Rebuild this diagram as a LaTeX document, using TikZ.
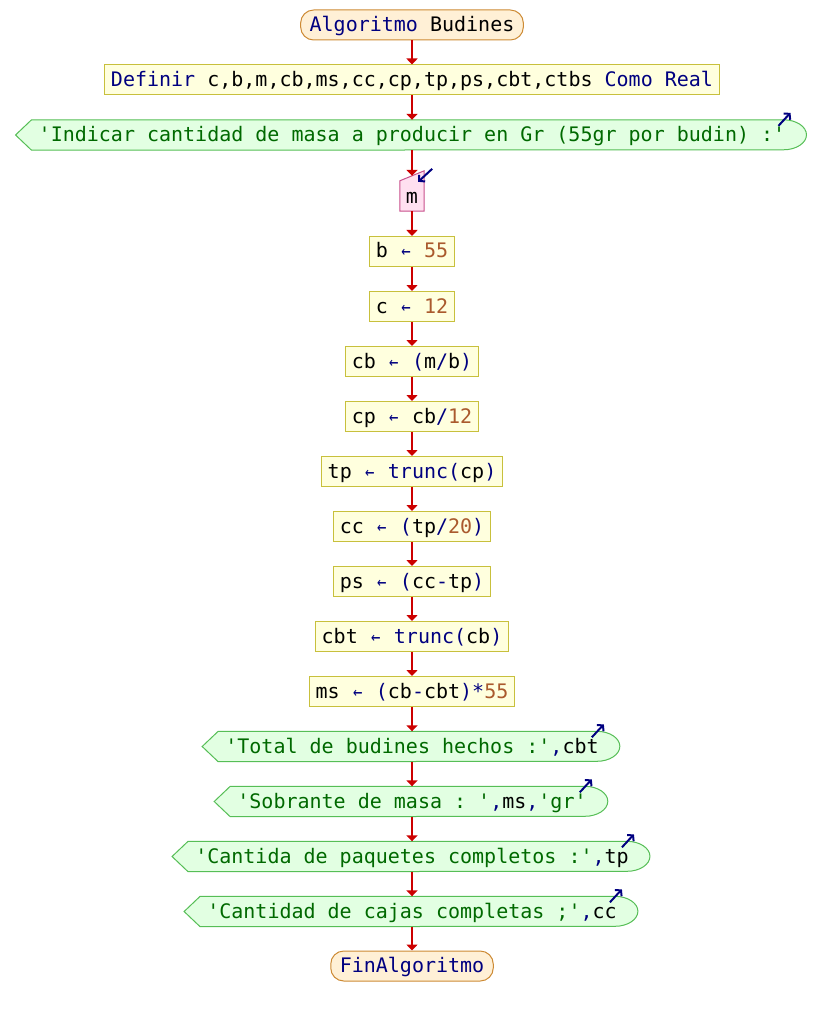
\documentclass[tikz,border=0pt]{standalone}
\usepackage{fontspec}
\setmonofont{DejaVu Sans Mono}
\usetikzlibrary{arrows.meta,calc,backgrounds}

\definecolor{termfill}{RGB}{255,240,214}
\definecolor{termline}{RGB}{205,138,52}
\definecolor{procfill}{RGB}{255,255,222}
\definecolor{procline}{RGB}{200,192,60}
\definecolor{outfill}{RGB}{226,255,226}
\definecolor{outline}{RGB}{86,190,86}
\definecolor{infill}{RGB}{255,224,240}
\definecolor{inline}{RGB}{200,80,140}
\definecolor{flowred}{RGB}{204,0,0}
\definecolor{kwblue}{RGB}{0,0,128}
\definecolor{numbrown}{RGB}{170,90,45}
\definecolor{strgreen}{RGB}{0,105,0}

\newcommand\kwd[1]{\textcolor{kwblue}{#1}}
\newcommand\lit[1]{\textcolor{numbrown}{#1}}
\newcommand\strg[1]{\textcolor{strgreen}{#1}}
% assignment arrow: a smaller glyph kept at one character cell
\newcommand\asg{\textcolor{kwblue}{\makebox[12.04pt][c]{\scalebox{0.78}[0.95]{←}}}}

\begin{document}
\begin{tikzpicture}[x=1pt,y=1pt,
  every node/.style={font=\ttfamily\fontsize{20}{24}\selectfont,
    text height=15pt, text depth=2pt},
  term/.style={draw=termline, fill=termfill, line width=1pt,
    rounded corners=13pt, minimum height=30pt, inner xsep=9pt, inner ysep=0pt},
  proc/.style={draw=procline, fill=procfill, line width=1pt,
    minimum height=30pt, inner xsep=6pt, inner ysep=0pt},
  outp/.style={minimum height=30pt, inner sep=0pt},
  inp/.style={minimum width=24pt, minimum height=30pt, inner sep=0pt, text depth=0pt},
  outshape/.style={draw=outline, fill=outfill, line width=1pt},
  inshape/.style={draw=inline, fill=infill, line width=1pt},
  flow/.style={draw=flowred, line width=2pt, -{Triangle[length=6pt,width=11pt]}},
  icon/.style={draw=kwblue, line width=2pt, -{Straight Barb[length=4pt,width=9pt]}}
]
\useasboundingbox (0,0) rectangle (824,-1016);

% program blocks, top to bottom
\node[term] (start) at (412,-25) {\kwd{Algoritmo} Budines};
\node[proc] (def) at (412,-80) {\kwd{Definir} c,b,m,cb,ms,cc,cp,tp,ps,cbt,ctbs \kwd{Como} \kwd{Real}};
\node[outp] (o1) at (412,-135) {\strg{'Indicar cantidad de masa a producir en Gr (55gr por budin) :'}};
\node[inp] (m) at (412,-196) {m};
\node[proc] (b) at (412,-251.5) {b \asg{} \lit{55}};
\node[proc] (c) at (412,-306.5) {c \asg{} \lit{12}};
\node[proc] (cb) at (412,-361.5) {cb \asg{} \kwd{(}m\kwd{/}b\kwd{)}};
\node[proc] (cp) at (412,-416.5) {cp \asg{} cb\kwd{/}\lit{12}};
\node[proc] (tp) at (412,-471.5) {tp \asg{} \kwd{trunc(}cp\kwd{)}};
\node[proc] (cc) at (412,-526.5) {cc \asg{} \kwd{(}tp\kwd{/}\lit{20}\kwd{)}};
\node[proc] (ps) at (412,-581.5) {ps \asg{} \kwd{(}cc\kwd{-}tp\kwd{)}};
\node[proc] (cbt) at (412,-636.5) {cbt \asg{} \kwd{trunc(}cb\kwd{)}};
\node[proc] (ms) at (412,-691.5) {ms \asg{} \kwd{(}cb\kwd{-}cbt\kwd{)*}\lit{55}};
\node[outp] (o2) at (412,-746.5) {\strg{'Total de budines hechos :'}\kwd{,}cbt};
\node[outp] (o3) at (412,-801.5) {\strg{'Sobrante de masa : '}\kwd{,}ms\kwd{,}\strg{'gr'}};
\node[outp] (o4) at (412,-856.5) {\strg{'Cantida de paquetes completos :'}\kwd{,}tp};
\node[outp] (o5) at (412,-911.5) {\strg{'Cantidad de cajas completas ;'}\kwd{,}cc};
\node[term] (fin) at (412,-966) {\kwd{FinAlgoritmo}};

% output and input outlines behind their texts
\begin{pgfonlayer}{background}
  \foreach \n in {o1,o2,o3,o4,o5} {
    \filldraw[outshape] ($(\n.west)+(-23,0)$) -- ($(\n.north west)+(-7,0)$)
      -- ($(\n.north east)+(-2,0)$)
      arc[start angle=90, end angle=-90, x radius=23pt, y radius=15pt]
      -- ($(\n.south west)+(-7,0)$) -- cycle;
  }
  \filldraw[inshape] (m.south west) -- (m.south east)
    -- ($(m.north east)+(0,10)$) -- (m.north west) -- cycle;
\end{pgfonlayer}

% small direction marks of input and output blocks
\foreach \n in {o1,o2,o3,o4,o5} {
  \draw[icon] ($(\n.north east)+(-7,-6)$) -- ($(\n.north east)+(5,7)$);
}
\draw[icon] ($(m.north east)+(8,12)$) -- ($(m.north east)+(-6,-1)$);

% flow
\coordinate (mtop) at ($(m.north)+(0,5)$);
\draw[flow] (start.south) -- (def.north);
\draw[flow] (def.south) -- (o1.north);
\draw[flow] (o1.south) -- (mtop);
\draw[flow] (m.south) -- (b.north);
\draw[flow] (b.south) -- (c.north);
\draw[flow] (c.south) -- (cb.north);
\draw[flow] (cb.south) -- (cp.north);
\draw[flow] (cp.south) -- (tp.north);
\draw[flow] (tp.south) -- (cc.north);
\draw[flow] (cc.south) -- (ps.north);
\draw[flow] (ps.south) -- (cbt.north);
\draw[flow] (cbt.south) -- (ms.north);
\draw[flow] (ms.south) -- (o2.north);
\draw[flow] (o2.south) -- (o3.north);
\draw[flow] (o3.south) -- (o4.north);
\draw[flow] (o4.south) -- (o5.north);
\draw[flow] (o5.south) -- (fin.north);
\end{tikzpicture}
\end{document}
